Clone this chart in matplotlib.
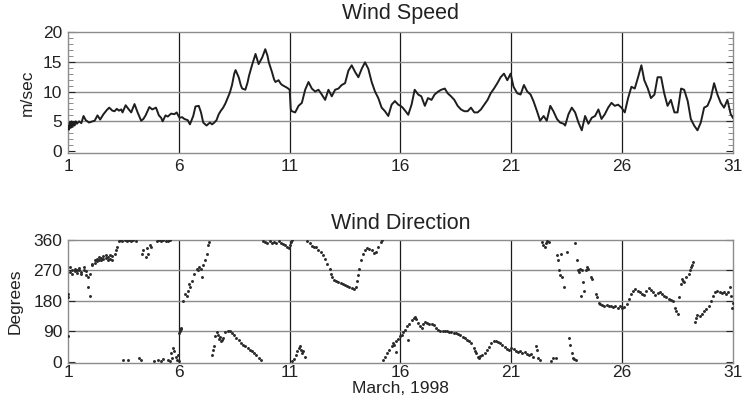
import matplotlib
matplotlib.use("Agg")
import matplotlib.pyplot as plt
from matplotlib.ticker import MultipleLocator

plt.rcParams['font.family'] = ['Liberation Sans', 'DejaVu Sans']

# -----------------------------
# Data
# -----------------------------

speed_day = [
    1.0, 1.04, 1.08, 1.12, 1.16, 1.2, 1.25, 1.3, 1.35, 1.4,
    1.5, 1.6, 1.7, 1.8, 1.95, 2.1, 2.2, 2.33, 2.45, 2.6,
    2.75, 2.86, 3.0, 3.1, 3.2, 3.3, 3.4, 3.46, 3.6, 3.7,
    3.85, 4.0, 4.14, 4.3, 4.4, 4.5, 4.67, 4.8, 4.97, 5.1,
    5.2, 5.27, 5.4, 5.5, 5.65, 5.8, 5.9, 6.03, 6.15, 6.25,
    6.4, 6.5, 6.65, 6.75, 6.9, 7.0, 7.1, 7.25, 7.4, 7.5,
    7.6, 7.7, 7.8, 7.9, 8.0, 8.1, 8.2, 8.3, 8.4, 8.5,
    8.56, 8.7, 8.8, 8.86, 9.0, 9.1, 9.17, 9.3, 9.46, 9.6,
    9.76, 9.9, 10.0, 10.06, 10.2, 10.3, 10.36, 10.5, 10.6, 10.66,
    10.8, 10.9, 11.0, 11.05, 11.1, 11.25, 11.4, 11.55, 11.7, 11.85,
    12.0, 12.15, 12.3, 12.45, 12.6, 12.75, 12.9, 13.05, 13.2, 13.35,
    13.5, 13.65, 13.8, 13.95, 14.1, 14.25, 14.4, 14.55, 14.7, 14.85,
    15.0, 15.15, 15.3, 15.45, 15.6, 15.75, 15.9, 16.0, 16.1, 16.25,
    16.35, 16.5, 16.64, 16.8, 16.94, 17.1, 17.24, 17.4, 17.54, 17.7,
    17.84, 18.0, 18.13, 18.28, 18.43, 18.58, 18.73, 18.88, 19.03, 19.18,
    19.33, 19.48, 19.63, 19.78, 19.93, 20.07, 20.22, 20.37, 20.52, 20.67,
    20.82, 20.97, 21.1, 21.27, 21.42, 21.57, 21.72, 21.87, 22.0, 22.16,
    22.3, 22.46, 22.6, 22.76, 22.9, 23.06, 23.2, 23.36, 23.43, 23.58,
    23.73, 23.88, 24.03, 24.18, 24.33, 24.48, 24.63, 24.78, 24.93, 25.07,
    25.22, 25.37, 25.52, 25.67, 25.82, 25.97, 26.12, 26.27, 26.42, 26.57,
    26.72, 26.87, 27.0, 27.16, 27.3, 27.46, 27.6, 27.76, 27.9, 28.05,
    28.2, 28.36, 28.5, 28.66, 28.8, 28.96, 29.1, 29.25, 29.4, 29.55,
    29.7, 29.85, 30.0, 30.15, 30.3, 30.45, 30.6, 30.75, 30.9, 31.0,
]
speed = [
    4.2, 3.6, 4.8, 3.9, 5.0, 4.1, 4.9, 4.3, 5.0, 4.6,
    5.0, 4.7, 5.9, 5.2, 4.8, 5.0, 5.1, 6.0, 5.3, 6.2,
    6.9, 7.3, 6.8, 6.7, 7.1, 6.8, 7.0, 6.5, 7.7, 7.2,
    6.5, 7.9, 6.5, 5.1, 5.4, 6.0, 7.4, 7.0, 7.3, 6.0,
    5.6, 5.0, 6.0, 5.8, 6.3, 6.2, 6.5, 5.6, 5.7, 5.4,
    5.2, 4.5, 5.9, 7.5, 7.6, 6.5, 4.8, 4.3, 4.8, 4.5,
    4.8, 5.2, 6.2, 6.8, 7.3, 8.0, 8.9, 9.8, 11.1, 13.0,
    13.6, 12.4, 11.0, 10.5, 10.3, 11.5, 12.7, 14.4, 16.3, 14.6,
    15.7, 17.1, 16.0, 14.9, 13.3, 12.0, 11.6, 11.9, 11.3, 11.1,
    10.8, 10.6, 10.3, 7.0, 6.7, 6.5, 7.6, 8.1, 10.3, 11.6,
    10.5, 10.0, 10.3, 9.5, 8.6, 10.3, 9.2, 10.3, 10.5, 11.1,
    11.4, 13.5, 14.4, 13.3, 12.4, 13.8, 14.9, 13.8, 11.6, 10.0,
    8.9, 7.3, 6.7, 5.9, 7.8, 8.4, 7.8, 7.6, 7.3, 6.6,
    6.1, 7.8, 10.3, 9.5, 9.2, 7.6, 8.9, 8.6, 9.5, 10.0,
    10.3, 10.5, 9.7, 9.2, 8.6, 7.6, 7.0, 6.7, 6.7, 7.3,
    6.5, 6.5, 7.0, 7.8, 8.6, 9.7, 10.5, 11.4, 12.4, 13.0,
    11.9, 13.0, 10.8, 9.7, 9.5, 11.1, 10.0, 9.5, 8.4, 6.7,
    5.1, 5.9, 5.1, 7.6, 6.7, 5.4, 4.8, 4.6, 4.3, 6.2,
    7.3, 6.5, 4.8, 3.5, 5.9, 4.6, 5.6, 5.9, 7.0, 5.4,
    6.2, 7.3, 8.1, 7.6, 7.8, 7.3, 6.5, 8.9, 10.8, 10.5,
    12.4, 14.4, 11.9, 10.5, 8.9, 9.5, 12.4, 12.4, 9.7, 7.6,
    8.6, 6.5, 6.5, 10.5, 10.3, 8.4, 5.4, 4.3, 3.5, 4.8,
    7.3, 7.6, 8.9, 11.4, 9.5, 8.1, 7.3, 8.6, 6.2, 5.6,
]

dir_day = [
    1.0, 1.0, 1.02, 1.1, 1.1, 1.2, 1.2, 1.3, 1.3, 1.4, 1.4, 1.5, 1.5,
    1.6, 1.6, 1.7, 1.7, 1.8, 1.8, 1.9, 1.9, 2.0, 2.0, 2.1, 2.1, 2.2,
    2.2, 2.3, 2.3, 2.4, 2.4, 2.5, 2.5, 2.6, 2.6, 2.7, 2.7, 2.8, 2.8,
    2.9, 2.9, 3.0, 3.0, 3.1, 3.15, 3.2, 3.3, 3.35, 3.45, 3.55, 3.65,
    3.75, 3.85, 3.95, 4.05, 3.5, 3.7, 4.2, 4.3, 4.35, 4.4, 4.5, 4.55,
    4.6, 4.7, 4.75, 5.0, 5.1, 5.2, 5.3, 5.4, 5.5, 5.6, 4.9, 5.05,
    5.2, 5.3, 5.5, 5.6, 5.65, 5.7, 5.75, 5.8, 5.85, 5.9, 5.95, 6.0,
    6.0, 6.03, 6.05, 6.08, 6.1, 6.2, 6.3, 6.35, 6.4, 6.45, 6.5, 6.6,
    6.7, 6.8, 6.85, 6.9, 7.0, 7.05, 7.1, 7.2, 7.25, 7.3, 7.35, 7.5,
    7.55, 7.6, 7.65, 7.7, 7.75, 7.8, 7.85, 7.9, 7.95, 8.0, 8.1, 8.2,
    8.3, 8.4, 8.5, 8.6, 8.7, 8.8, 8.9, 9.0, 9.1, 9.2, 9.3, 9.4,
    9.5, 9.6, 9.7, 9.8, 9.9, 10.0, 10.1, 10.2, 10.3, 10.4, 10.5, 10.6,
    10.7, 10.8, 10.9, 10.95, 11.0, 11.05, 11.1, 11.1, 11.2, 11.3, 11.35, 11.4,
    11.45, 11.5, 11.55, 11.6, 11.7, 11.8, 11.9, 12.0, 12.1, 12.2, 12.3, 12.4,
    12.5, 12.6, 12.7, 12.8, 12.85, 12.9, 13.0, 13.1, 13.2, 13.3, 13.4, 13.5,
    13.6, 13.7, 13.8, 13.9, 14.0, 14.05, 14.1, 14.15, 14.2, 14.3, 14.4, 14.5,
    14.6, 14.7, 14.8, 14.9, 15.0, 15.1, 15.15, 15.2, 15.3, 15.4, 15.5, 15.6,
    15.65, 15.7, 15.8, 15.82, 15.9, 16.0, 16.05, 16.1, 16.2, 16.3, 16.35, 16.4,
    16.5, 16.6, 16.65, 16.7, 16.8, 16.9, 16.95, 17.0, 17.1, 17.2, 17.3, 17.4,
    17.5, 17.6, 17.7, 17.8, 17.9, 18.0, 18.1, 18.2, 18.3, 18.4, 18.5, 18.6,
    18.7, 18.8, 18.9, 19.0, 19.1, 19.2, 19.3, 19.35, 19.4, 19.5, 19.55, 19.6,
    19.7, 19.8, 19.9, 20.0, 20.1, 20.2, 20.3, 20.4, 20.5, 20.6, 20.7, 20.8,
    20.9, 21.0, 21.1, 21.2, 21.3, 21.4, 21.5, 21.6, 21.7, 21.8, 21.9, 22.0,
    22.1, 22.15, 22.2, 22.3, 22.4, 22.45, 22.5, 22.55, 22.6, 22.7, 22.8, 22.9,
    23.0, 23.05, 23.1, 23.15, 23.2, 23.25, 23.3, 23.4, 23.5, 23.6, 23.65, 23.75,
    23.8, 23.85, 23.9, 23.88, 23.95, 24.0, 24.05, 24.1, 24.15, 24.2, 24.25, 24.3,
    24.35, 24.4, 24.45, 24.6, 24.65, 24.8, 24.85, 24.95, 25.0, 25.1, 25.2, 25.3,
    25.4, 25.5, 25.6, 25.7, 25.8, 25.9, 26.0, 26.1, 26.2, 26.3, 26.4, 26.5,
    26.6, 26.7, 26.8, 26.9, 27.0, 27.1, 27.2, 27.3, 27.4, 27.5, 27.6, 27.7,
    27.8, 27.9, 28.0, 28.1, 28.2, 28.3, 28.4, 28.45, 28.5, 28.55, 28.65, 28.7,
    28.75, 28.8, 28.9, 29.0, 29.05, 29.1, 29.15, 29.2, 29.3, 29.35, 29.4, 29.5,
    29.6, 29.7, 29.8, 29.9, 30.0, 30.1, 30.2, 30.3, 30.4, 30.5, 30.6, 30.7,
    30.8, 30.85, 30.9, 30.95, 31.0,
]
direction = [
    190, 200, 75, 265, 280, 270, 260, 275, 268, 262, 270, 270, 278,
    265, 258, 280, 272, 268, 255, 250, 220, 260, 195, 285, 290, 300,
    292, 305, 298, 300, 310, 308, 302, 312, 305, 315, 308, 310, 300,
    305, 315, 312, 300, 318, 330, 340, 358, 360, 358, 359, 357,
    359, 358, 359, 357, 4, 6, 10, 5, 320, 330, 310, 335,
    320, 345, 340, 358, 359, 357, 359, 358, 357, 359, 3, 5,
    2, 8, 5, 3, 25, 10, 40, 30, 15, 5, 20, 3,
    85, 90, 95, 98, 100, 180, 200, 195, 210, 230, 220, 240,
    260, 275, 272, 280, 275, 250, 285, 300, 320, 345, 355, 20,
    35, 45, 75, 88, 80, 68, 72, 60, 65, 70, 88, 92,
    90, 85, 80, 70, 65, 55, 50, 45, 40, 35, 30, 25,
    20, 12, 5, 358, 355, 352, 356, 350, 355, 352, 358, 350,
    348, 345, 340, 335, 345, 355, 360, 3, 8, 20, 30, 40,
    45, 35, 25, 30, 15, 358, 350, 343, 340, 338, 330, 325,
    315, 305, 290, 275, 260, 250, 242, 238, 235, 232, 230, 228,
    225, 222, 218, 215, 220, 240, 255, 275, 300, 320, 330, 335,
    332, 330, 322, 325, 340, 355, 360, 5, 15, 25, 35, 45,
    55, 50, 60, 28, 68, 75, 80, 88, 95, 105, 65, 112,
    122, 130, 132, 125, 115, 105, 100, 110, 118, 115, 112, 110,
    108, 100, 95, 92, 90, 90, 90, 88, 87, 86, 84, 82,
    78, 74, 70, 65, 60, 55, 40, 30, 25, 15, 10, 18,
    20, 25, 35, 42, 55, 62, 60, 58, 55, 48, 42, 38,
    35, 40, 38, 30, 28, 30, 25, 28, 24, 20, 22, 15,
    45, 35, 12, 5, 355, 345, 340, 350, 358, 355, 3, 10,
    12, 315, 300, 270, 255, 320, 250, 220, 325, 70, 50, 25,
    12, 8, 5, 350, 300, 270, 265, 275, 195, 270, 235, 210,
    272, 280, 275, 250, 245, 200, 190, 175, 170, 168, 165, 168,
    165, 166, 163, 165, 160, 165, 158, 162, 170, 185, 200, 210,
    215, 210, 205, 200, 198, 210, 218, 212, 205, 198, 202, 205,
    200, 195, 190, 185, 182, 178, 160, 150, 140, 190, 230, 245,
    240, 235, 250, 260, 270, 280, 285, 295, 118, 130, 138, 135,
    140, 150, 155, 165, 180, 195, 205, 210, 205, 202, 205, 200,
    205, 220, 195, 160, 175,
]

day_ticks = [1, 6, 11, 16, 21, 26, 31]
speed_ticks = [0, 5, 10, 15, 20]
dir_ticks = [0, 90, 180, 270, 360]

# -----------------------------
# Figure
# -----------------------------

fig = plt.figure(figsize=(7.45, 4.09), dpi=100)
ax1 = fig.add_axes([0.0913, 0.626, 0.8925, 0.296])
ax2 = fig.add_axes([0.0913, 0.1125, 0.8925, 0.3007])

grid_grey = "#8c8c8c"
ink = "#222222"


def style_axes(ax, yticks, xpad):
    ax.set_xlim(1, 31)
    ax.set_xticks(day_ticks)
    ax.set_yticks(yticks)
    for d in day_ticks[1:-1]:
        ax.axvline(d, color="#1a1a1a", lw=0.9, zorder=1)
    for v in yticks[1:-1]:
        ax.axhline(v, color=grid_grey, lw=1.0, zorder=1)
    for s in ax.spines.values():
        s.set_color(grid_grey)
        s.set_linewidth(1.0)
    ax.tick_params(axis="both", direction="in", labelsize=12.5, colors=ink,
                   length=5, width=0.8)
    ax.tick_params(axis="x", length=0, pad=xpad)
    ax.tick_params(axis="y", right=True, pad=4)


# ---------- Wind Speed ----------
style_axes(ax1, speed_ticks, 4.5)
ax1.set_ylim(-0.3, 20)
ax1.yaxis.set_minor_locator(MultipleLocator(1))
ax1.tick_params(axis="y", which="minor", direction="in", right=True,
                length=3.5, width=0.7, colors=grid_grey)
ax1.plot(speed_day, speed, color="#1e1e1e", lw=1.4, zorder=3)
ax1.set_title("Wind Speed", fontsize=15.5, pad=9, color=ink)
ax1.set_ylabel("m/sec", fontsize=12.5, labelpad=6, color=ink)

# ---------- Wind Direction ----------
style_axes(ax2, dir_ticks, 1.5)
ax2.set_ylim(-4, 360)
ax2.scatter(dir_day, direction, s=4.5, color="#2a2a2a", marker="o",
            linewidths=0, zorder=3)
ax2.set_title("Wind Direction", fontsize=15.5, pad=8, color=ink)
ax2.set_ylabel("Degrees", fontsize=12.5, labelpad=8, color=ink)
ax2.set_xlabel("March, 1998", fontsize=12.5, labelpad=1, color=ink)

fig.savefig("out.png", dpi=100, facecolor="white")
